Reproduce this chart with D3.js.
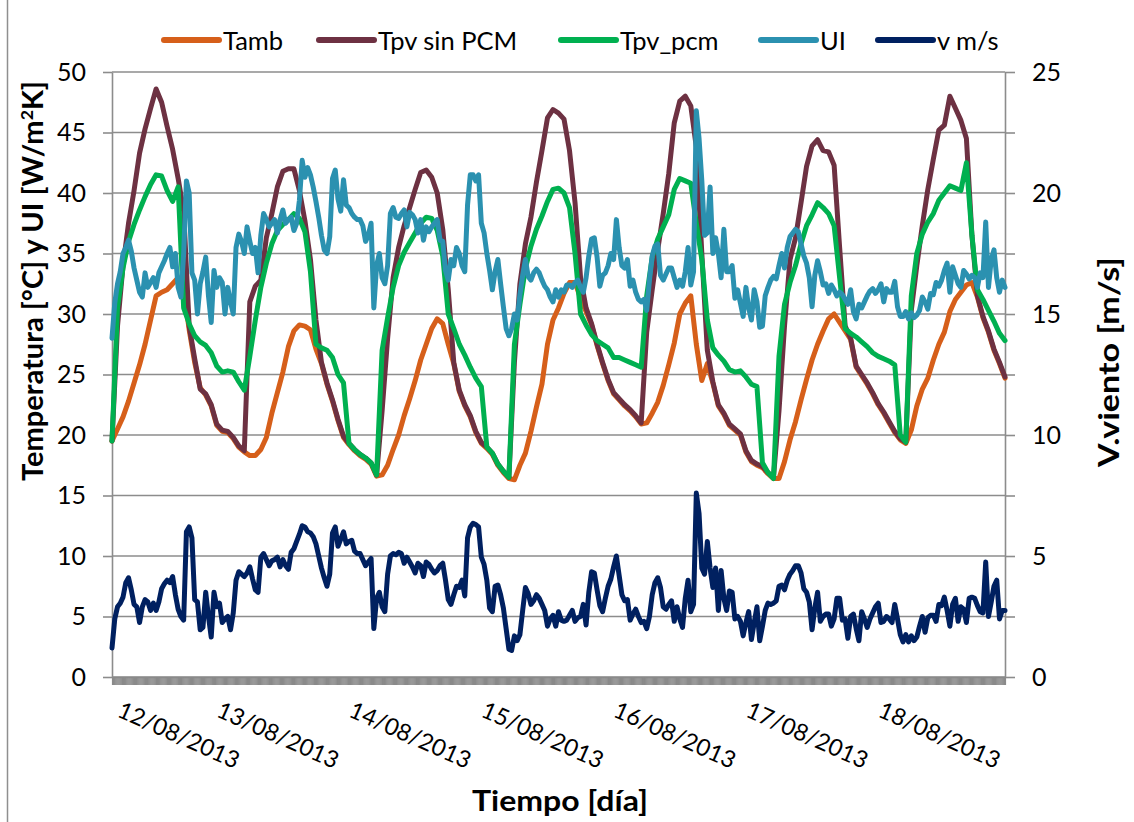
<!DOCTYPE html>
<html>
<head>
<meta charset="utf-8">
<script src="https://cdn.jsdelivr.net/npm/d3@7"></script>
<style>
  html, body { margin: 0; padding: 0; background: #ffffff; }
  svg { display: block; }
  text { font-family: Lato, "Open Sans", "Noto Sans", sans-serif; fill: #000; }
</style>
</head>
<body>
<svg id="chart" width="1134" height="822"></svg>
<script>
// ---- Data -------------------------------------------------------------
// Measurement period: 12/08/2013 06:00 to 19/08/2013 00:00
const startTime = new Date(2013, 7, 12, 6, 0);
const endTime = new Date(2013, 7, 19, 0, 0);

// Temperatures, hourly samples [°C]
const tamb = [
  19.5, 20.5, 21.5, 22.8, 24.3, 25.8, 27.5, 29.5, 31.5, 31.8,
  32, 32.5, 33, 32, 28.7, 26, 23.9, 23.3, 22.4, 20.8,
  20.3, 20.2, 19.7, 19, 18.6, 18.3, 18.3, 18.8, 19.8, 21.8,
  23.5, 25.2, 27.3, 28.6, 29.1, 29, 28.7, 27.1, 25.9, 24.2,
  22.8, 21.2, 19.8, 19.2, 18.7, 18.3, 18, 17.6, 16.6, 16.7,
  17.5, 18.8, 20, 21.6, 23, 24.5, 26.2, 27.5, 28.8, 29.6,
  29.2, 27.5, 25.9, 23.6, 22.4, 21.5, 20.2, 19.3, 18.9, 18.4,
  17.5, 16.9, 16.4, 16.3, 17.5, 18.5, 20.3, 22.3, 24.2, 27.5,
  29.5, 30.5, 31.7, 32.6, 32.6, 31.3, 30.2, 29.1, 27.4, 25.9,
  24.5, 23.4, 22.9, 22.4, 22, 21.5, 20.9, 21, 21.8, 22.7,
  24.1, 25.8, 27.6, 30, 30.9, 31.5, 27.5, 24.5, 25.9, 24.3,
  22.4, 21.7, 20.8, 20.4, 20, 18.6, 17.8, 17.5, 17.3, 16.8,
  16.4, 16.4, 17.8, 19.6, 21.1, 22.9, 24.6, 26.2, 27.5, 28.6,
  29.6, 30, 29.3, 28.6, 27.9, 25.6, 24.9, 24.2, 23.4, 22.5,
  21.8, 21, 20.2, 19.6, 19.3, 20.4, 22.4, 23.8, 24.7, 26.2,
  27.5, 28.5, 30.2, 31.2, 31.8, 32.4, 32.6, 31.4, 29.7, 28.5,
  27, 25.9, 24.7
];

const tpvSinPcm = [
  19.5, 29, 34, 37.5, 40.2, 43.3, 45.3, 47, 48.6, 47.5,
  45.5, 43.6, 41.2, 38.5, 29, 26.3, 23.8, 23.4, 22.5, 20.9,
  20.4, 20.3, 19.8, 19.1, 18.7, 31, 32.3, 32.8, 36.3, 38.3,
  40.5, 41.8, 42, 42, 40.2, 37.7, 34.5, 29.5, 26, 24.3,
  22.9, 21.3, 19.9, 19.3, 18.8, 18.4, 18.1, 17.7, 16.7, 22,
  28, 33, 35.5, 37.3, 38.8, 40.3, 41.7, 41.9, 41.3, 40,
  37, 32, 26, 23.7, 22.5, 21.6, 20.3, 19.4, 19, 18.5,
  17.6, 17, 16.5, 26, 32.5, 35.8, 38, 40.9, 43.5, 46.2,
  46.9, 46.6, 46.1, 43.5, 39.2, 33, 30.5, 29.2, 27.5, 26,
  24.6, 23.5, 23, 22.5, 22.1, 21.6, 21, 28.5, 32, 35.3,
  38.3, 41.6, 45.8, 47.6, 48, 47.2, 43.8, 35, 27, 24.4,
  22.5, 21.8, 20.9, 20.5, 20.1, 18.7, 17.9, 17.6, 17.4, 16.9,
  16.5, 22, 29, 34.5, 36.3, 39.2, 42.2, 43.9, 44.4, 43.5,
  43.4, 42.3, 35.5, 29, 28, 25.7, 25, 24.3, 23.5, 22.6,
  21.9, 21.1, 20.3, 19.7, 19.4, 30.3, 34, 37.3, 40.3, 42.8,
  45.2, 45.6, 48, 47, 46, 44.5, 36.5, 31.5, 29.8, 28.6,
  27.1, 26, 24.8
];

const tpvPcm = [
  19.5, 30.5, 33.8, 36, 37.4, 38.6, 39.7, 40.7, 41.5, 41.4,
  40.2, 39.3, 40.5, 30.5, 29.2, 28.2, 27.7, 27.4, 26.8, 25.7,
  25.2, 25.3, 25.2, 24.4, 23.7, 26.5, 29.5, 32.2, 34.2, 35.8,
  36.9, 37.4, 37.8, 38.3, 37.9, 36.8, 33.5, 27.5, 27.2, 27,
  26.4, 25, 24.3, 19.3, 18.8, 18.4, 18.1, 17.7, 16.7, 27,
  29.7, 32.2, 34, 35.1, 35.9, 36.7, 37.5, 38, 37.9, 36.9,
  34.8, 30, 28.8, 27.5, 26.6, 25.6, 24.7, 24, 19, 18.5,
  17.6, 17, 16.5, 27.5, 30.8, 33.8, 35.6, 37, 38.1, 39.3,
  40.3, 40.4, 40, 38.8, 35, 30, 29.1, 28.3, 27.8, 27.5,
  27.2, 26.4, 26.4, 26.2, 26, 25.8, 25.6, 31.5, 34.7, 36.2,
  37.2, 38.2, 40.3, 41.2, 41, 40.8, 37.5, 34.5, 29.5, 27.2,
  26.6, 26.1, 25.4, 25.2, 25.3, 24.8, 24.2, 24, 17.7, 16.9,
  16.4, 26.5, 30.8, 32.6, 34, 35.8, 37.3, 38.2, 39.2, 38.8,
  38.3, 37.3, 33, 28.8, 28.4, 28.1, 27.7, 27.3, 26.8, 26.5,
  26.3, 26.1, 25.8, 20, 19.4, 31.5, 35, 36.6, 37.6, 38.3,
  39.4, 40, 40.6, 40.4, 40.2, 42.5, 36.5, 32, 31.2, 30.3,
  29.4, 28.4, 27.8
];

// Heat loss coefficient UI [W/m²K], half-hourly samples
const ui = [
  28, 30.9, 32.5, 33.5, 35, 35.5, 36.1, 35.2, 33.8, 32.8,
  31.8, 31.4, 33.4, 32.2, 32.6, 33, 32.2, 33.4, 33.9, 34.4,
  35, 35.5, 33.9, 35, 32.2, 31.4, 35, 41, 40, 33.4,
  32.8, 30, 32.5, 33.5, 34.7, 31.5, 29.3, 33.6, 32.2, 33,
  32.6, 30, 32.2, 31, 30, 35.5, 36.6, 36, 35, 37.2,
  36, 35, 35.5, 33.4, 36.5, 38.3, 37.8, 37.2, 37.5, 37.8,
  36.7, 37.8, 38.6, 37.5, 37.8, 38, 36.9, 37.5, 39.4, 42.7,
  41.3, 42.1, 41.5, 40.5, 39.3, 38, 36.5, 35.3, 35, 36.4,
  41.2, 41.9, 39.5, 38.5, 41.1, 39, 38.8, 38.3, 38, 37.8,
  37.8, 37.3, 36, 36.5, 37.5, 30.5, 34, 35, 33, 32.5,
  34, 38.3, 38.8, 38, 37.9, 38.3, 38.6, 37.2, 38.4, 38.2,
  37.8, 36.7, 37.8, 36.1, 37.2, 36.8, 37.2, 37.5, 37.8, 36.1,
  36, 33.6, 32.8, 34.5, 34, 35.5, 35, 34, 33.5, 39,
  41.5, 41.5, 41, 41.5, 37.5, 36.7, 35, 33.6, 32, 33.5,
  34.5, 32.5, 30.6, 28.8, 28.2, 28.8, 30, 29.5, 31.6, 33.2,
  34.5, 33.1, 32.8, 33.4, 33.7, 33.4, 32.8, 32.3, 32, 31.4,
  31, 32, 31.4, 32, 31.8, 32.4, 32.4, 32.2, 32.6, 32.8,
  32.2, 31.8, 33, 34.8, 36.2, 36.3, 34.7, 32.3, 33.2, 33.4,
  34, 35, 34.5, 37.8, 35.5, 34, 33.8, 34.5, 32.3, 32.8,
  31.8, 31.2, 31, 31.2, 30.3, 32.8, 34.8, 35.6, 35.8, 33.2,
  32.8, 33.3, 33.8, 33.8, 33, 32.2, 32.8, 32.3, 33.5, 35.5,
  32.4, 33.5, 46.8, 44.5, 41, 36.5, 36.7, 40.5, 35, 36.3,
  35, 33, 37, 33.5, 33.5, 34, 31.3, 32, 30.9, 29.8,
  32.2, 30.5, 29.5, 32, 31, 28.9, 29, 31.5, 32.2, 32.8,
  33.1, 32.9, 34, 35, 33.8, 35.5, 36.4, 36.7, 37, 36.8,
  35.8, 34.8, 34.2, 33, 30.6, 33.2, 34.4, 33.5, 32.4, 32.5,
  31.7, 32.4, 32, 31.5, 31.8, 31.6, 31.2, 30.8, 32, 30.2,
  29.6, 30.8, 30.5, 31, 31.5, 31.9, 32.1, 31.7, 32, 32.5,
  31, 32.1, 31.8, 31.8, 32.7, 30.6, 29.8, 29.8, 30.2, 29.6,
  30.1, 29.7, 29.9, 30.3, 31.4, 31, 30.4, 31.7, 31.6, 32.6,
  32.3, 32.8, 33.6, 34.2, 31.8, 33.9, 33.2, 32.5, 32.2, 33.6,
  33.3, 32.9, 33.2, 33, 32.2, 33.4, 33, 37.6, 32.2, 34.5,
  35.3, 33, 31.8, 32.8, 32.2
];

// Wind speed [m/s], half-hourly samples
const viento = [
  1.2, 2.4, 2.9, 3.05, 3.3, 3.9, 4.1, 3.6, 3.0, 2.9,
  2.25, 2.9, 3.2, 3.1, 2.75, 3.05, 2.75, 3.1, 3.65, 3.85,
  4.0, 3.9, 4.15, 3.4, 2.8, 2.5, 2.35, 6.0, 6.2, 5.75,
  3.2, 3.1, 1.95, 2.05, 3.5, 2.5, 1.65, 3.5, 2.9, 3.05,
  2.25, 2.4, 2.5, 1.95, 2.65, 4.0, 4.35, 4.25, 4.15, 4.3,
  4.55, 4.05, 3.6, 3.5, 4.95, 5.1, 4.85, 4.6, 4.8, 4.85,
  4.95, 4.55, 4.85, 4.6, 4.45, 5.15, 5.3, 5.6, 5.9, 6.25,
  6.2, 6.0, 5.95, 5.8, 5.5, 5.0, 4.5, 4.1, 3.75, 4.25,
  5.95, 6.2, 5.4, 5.7, 6.0, 5.5, 5.6, 5.65, 5.2, 5.1,
  5.1, 4.85, 4.6, 4.75, 4.9, 2.0, 3.25, 3.5, 2.9, 2.7,
  4.25, 5.0, 5.1, 5.05, 5.15, 5.1, 4.7, 4.95, 4.75, 4.55,
  4.3, 4.7, 4.6, 4.15, 4.75, 4.65, 4.45, 4.3, 4.4, 4.6,
  4.7, 4.0, 3.2, 3.0, 3.4, 3.75, 3.7, 4.0, 3.35, 5.75,
  6.2, 6.35, 6.3, 6.2, 4.95, 4.65, 4.0, 2.85, 2.7, 3.75,
  3.8, 3.4, 2.85, 2.0, 1.15, 1.1, 1.7, 1.5, 1.75, 2.75,
  3.7, 3.45, 3.0, 3.15, 3.4, 3.25, 3.0, 2.75, 2.1, 2.4,
  2.55, 2.1, 2.7, 2.35, 2.3, 2.35, 2.55, 2.75, 2.3, 2.45,
  2.5, 3.0, 2.15, 3.5, 4.35, 4.3, 3.6, 2.95, 2.7, 3.25,
  3.75, 4.05, 4.55, 5.0, 4.2, 3.4, 3.15, 3.2, 2.35, 2.6,
  2.8, 2.5, 2.25, 2.3, 2.0, 2.5, 3.4, 3.9, 4.1, 3.7,
  2.9, 2.8, 3.0, 3.15, 2.3, 2.9, 2.4, 2.05, 3.25, 4.0,
  2.7, 3.0, 7.6, 6.75, 4.5, 4.25, 5.6, 4.5, 3.7, 4.5,
  2.75, 4.4, 3.25, 2.75, 3.55, 3.5, 2.4, 2.5, 2.3, 1.7,
  2.25, 2.7, 1.55, 2.25, 2.9, 1.5, 2.1, 2.75, 3.05, 3.0,
  3.05, 3.15, 3.75, 3.8, 3.6, 4.0, 4.25, 4.4, 4.6, 4.6,
  4.3, 3.65, 3.5, 3.1, 1.95, 2.85, 3.5, 2.3, 2.5, 2.6,
  2.6, 2.1, 2.4, 3.25, 3.25, 2.35, 2.4, 1.6, 2.5, 2.6,
  2.0, 1.5, 2.7, 2.4, 2.05, 2.4, 2.65, 2.9, 3.05, 2.25,
  2.3, 2.5, 2.4, 2.25, 3.0, 2.4, 1.75, 1.45, 1.75, 1.45,
  1.7, 1.5, 1.65, 2.1, 2.5, 1.85, 2.45, 2.55, 2.55, 2.3,
  3.0, 2.95, 3.3, 2.75, 2.1, 3.0, 3.25, 2.3, 2.9, 2.8,
  2.25, 3.25, 3.3, 3.25, 2.95, 2.7, 2.65, 4.75, 2.5, 3.1,
  3.75, 4.0, 2.4, 2.75, 2.75
];

// Axis ticks and labels
const leftTicks = [0, 5, 10, 15, 20, 25, 30, 35, 40, 45, 50];
const rightTicks = [0, 2.5, 5, 7.5, 10, 12.5, 15, 17.5, 20, 22.5, 25];
const rightLabels = [0, 5, 10, 15, 20, 25];
const dateTicks = [
  new Date(2013, 7, 12, 6, 0),
  new Date(2013, 7, 13), new Date(2013, 7, 14), new Date(2013, 7, 15),
  new Date(2013, 7, 16), new Date(2013, 7, 17), new Date(2013, 7, 18)
];
const seriesNames = ["Tamb", "Tpv sin PCM", "Tpv_pcm", "UI", "v m/s"];
const seriesColors = ["#d65f1a", "#6d3142", "#00b050", "#2b91b0", "#002060"];

// ---- Chart ------------------------------------------------------------
const svg = d3.select("#chart");
const W = 1134, H = 822;
const plot = { left: 112, right: 1005, top: 72, bottom: 677 };
const gridColor = "#8c8c8c";

svg.append("rect").attr("width", W).attr("height", H).attr("fill", "#fff");
// chart area border (left edge)
svg.append("line").attr("x1", 7.5).attr("x2", 7.5).attr("y1", 0).attr("y2", H)
  .attr("stroke", "#8f8f8f").attr("stroke-width", 1.5);

const x = d3.scaleTime().domain([startTime, endTime]).range([plot.left, plot.right]);
const yL = d3.scaleLinear().domain([0, 50]).range([plot.bottom, plot.top]);
const yR = d3.scaleLinear().domain([0, 25]).range([plot.bottom, plot.top]);

// horizontal gridlines
svg.append("g").selectAll("line").data(leftTicks).join("line")
  .attr("x1", plot.left).attr("x2", plot.right)
  .attr("y1", d => yL(d)).attr("y2", d => yL(d))
  .attr("stroke", gridColor).attr("stroke-width", 1.6);

// left axis
const gLeft = svg.append("g").attr("transform", `translate(${plot.left},0)`)
  .call(d3.axisLeft(yL).tickValues(leftTicks).tickSize(9).tickSizeOuter(0).tickPadding(17));
gLeft.select(".domain").attr("stroke", gridColor).attr("stroke-width", 1.6);
gLeft.selectAll(".tick line").attr("stroke", gridColor).attr("stroke-width", 1.6);
gLeft.selectAll(".tick text").style("font-size", "25px").attr("fill", "#000");

// right axis (wind speed)
const gRight = svg.append("g").attr("transform", `translate(${plot.right},0)`)
  .call(d3.axisRight(yR).tickValues(rightTicks).tickSize(10).tickSizeOuter(0).tickPadding(17)
    .tickFormat(d => rightLabels.includes(d) ? d3.format("d")(d) : ""));
gRight.select(".domain").attr("stroke", gridColor).attr("stroke-width", 1.6);
gRight.selectAll(".tick line").attr("stroke", gridColor).attr("stroke-width", 1.6);
gRight.selectAll(".tick text").style("font-size", "25px").attr("fill", "#000");

// bottom axis: dense category tick band
const gBottom = svg.append("g").attr("transform", `translate(0,${plot.bottom})`)
  .call(d3.axisBottom(x).ticks(d3.timeMinute.every(10)).tickSize(8).tickSizeOuter(0).tickFormat(""));
gBottom.select(".domain").attr("stroke", gridColor).attr("stroke-width", 1.6);
gBottom.selectAll(".tick line").attr("stroke", "#8a8a8a").attr("stroke-width", 1.2);

// rotated date labels
const fmtDate = d3.timeFormat("%d/%m/%Y");
svg.append("g").selectAll("text").data(dateTicks).join("text")
  .attr("transform", d => `translate(${x(d) + 4},716) rotate(24)`)
  .style("font-size", "23.5px")
  .text(d => fmtDate(d));

// series lines
const hourly = i => d3.timeMinute.offset(startTime, i * 60);
const halfHourly = i => d3.timeMinute.offset(startTime, i * 30);
const series = [
  { values: tamb, t: hourly, y: yL },
  { values: tpvSinPcm, t: hourly, y: yL },
  { values: tpvPcm, t: hourly, y: yL },
  { values: ui, t: halfHourly, y: yL },
  { values: viento, t: halfHourly, y: yR }
];
const gLines = svg.append("g");
series.forEach((s, k) => {
  const line = d3.line().x((d, i) => x(s.t(i))).y(d => s.y(d));
  gLines.append("path").datum(s.values)
    .attr("d", line)
    .attr("fill", "none")
    .attr("stroke", seriesColors[k])
    .attr("stroke-width", 5)
    .attr("stroke-linejoin", "round")
    .attr("stroke-linecap", "round");
});

// legend
const legendPos = [164, 319, 561, 761, 878];
const legend = svg.append("g");
seriesNames.forEach((name, k) => {
  const lx = legendPos[k];
  legend.append("line").attr("x1", lx).attr("x2", lx + 55).attr("y1", 40).attr("y2", 40)
    .attr("stroke", seriesColors[k]).attr("stroke-width", 6).attr("stroke-linecap", "round");
  legend.append("text").attr("x", lx + 59).attr("y", 49.5)
    .style("font-size", "25.5px").text(name);
});

// axis titles
svg.append("text")
  .attr("transform", "translate(43,281) rotate(-90)")
  .attr("text-anchor", "middle")
  .attr("textLength", 400).attr("lengthAdjust", "spacingAndGlyphs")
  .style("font-size", "28px").style("font-weight", "bold")
  .html("Temperatura [°C] y UI [W/m<tspan font-size='17' dy='-10'>2</tspan><tspan dy='10'>K]</tspan>");

svg.append("text")
  .attr("transform", "translate(1119,362) rotate(-90)")
  .attr("text-anchor", "middle")
  .attr("textLength", 210).attr("lengthAdjust", "spacingAndGlyphs")
  .style("font-size", "28px").style("font-weight", "bold")
  .text("V.viento [m/s]");

svg.append("text")
  .attr("x", 560).attr("y", 811)
  .attr("text-anchor", "middle")
  .attr("textLength", 176).attr("lengthAdjust", "spacingAndGlyphs")
  .style("font-size", "28px").style("font-weight", "bold")
  .text("Tiempo [día]");
</script>
</body>
</html>
